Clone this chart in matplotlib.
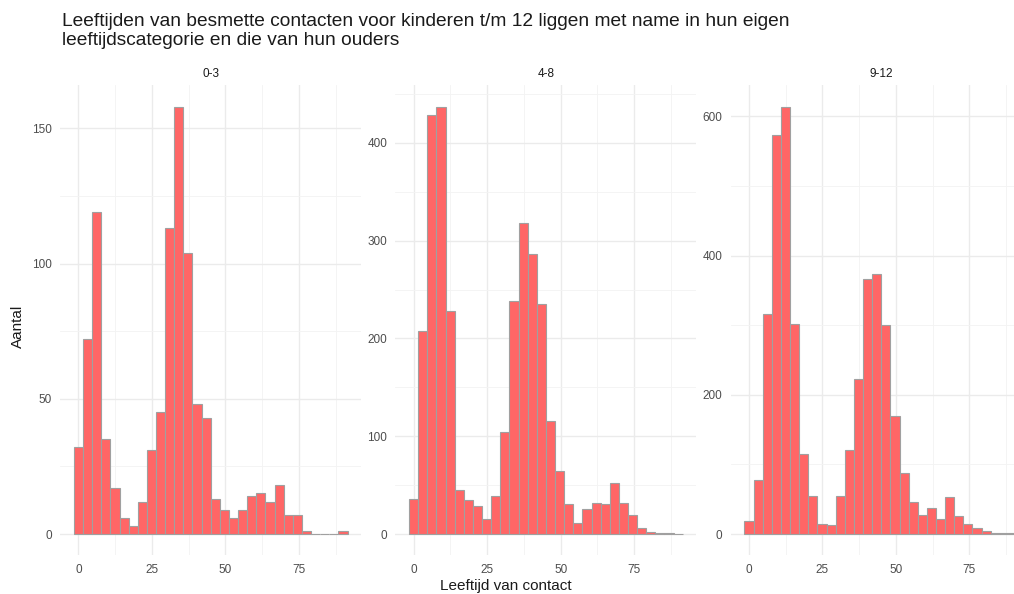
import numpy as np
import matplotlib.pyplot as plt
from matplotlib.ticker import MultipleLocator

plt.rcParams['font.family'] = ['Liberation Sans', 'DejaVu Sans']

# 30 bins over the shared age range 0-90 (centres at 0, 90/29, ..., 90)
n_bins = 30
bin_width = 90 / 29
bin_centres = np.arange(n_bins) * bin_width

groups = ['0-3', '4-8', '9-12']

counts_0_3 = [32, 72, 119, 35, 17, 6, 3, 12, 31, 45, 113, 158, 104, 48, 43,
              13, 9, 6, 9, 14, 15, 12, 18, 7, 7, 1, 0, 0, 0, 1]
counts_4_8 = [36, 208, 428, 437, 228, 45, 35, 29, 15, 39, 104, 238, 318, 286, 235,
              116, 64, 31, 11, 26, 32, 31, 52, 32, 19, 6, 2, 1, 1, 0.3]
counts_9_12 = [19, 78, 316, 574, 614, 302, 115, 55, 15, 13, 54, 120, 223, 366, 374,
               300, 170, 88, 46, 28, 37, 22, 53, 26, 15, 8, 5, 2, 1, 2]

all_counts = [counts_0_3, counts_4_8, counts_9_12]
y_major = [50, 100, 200]

fig = plt.figure(figsize=(10.14, 5.94), dpi=100)
fig.patch.set_facecolor('white')

fig.text(0.061, 0.978, 'Leeftijden van besmette contacten voor kinderen t/m 12 liggen met name in hun eigen\n'
         'leeftijdscategorie en die van hun ouders',
         fontsize=13.8, color='#1a1a1a', ha='left', va='top', linespacing=1.12)

lefts = [0.0594, 0.390, 0.7207]
bottom, height, width = 0.065, 0.7914, 0.2968

x_lo = -bin_width / 2
x_hi = 90 + bin_width / 2
x_pad = (x_hi - x_lo) * 0.05

for left, name, counts, step in zip(lefts, groups, all_counts, y_major):
    ax = fig.add_axes([left, bottom, width, height])
    ax.set_facecolor('white')
    ax.bar(bin_centres, counts, width=bin_width, color='#ff6666',
           edgecolor='#a0a0a0', linewidth=0.8, zorder=3)
    ymax = max(counts)
    ax.set_ylim(-0.05 * ymax, ymax * 1.05)
    ax.set_xlim(x_lo - x_pad, x_hi + x_pad)
    ax.xaxis.set_major_locator(MultipleLocator(25))
    ax.xaxis.set_minor_locator(MultipleLocator(12.5))
    ax.yaxis.set_major_locator(MultipleLocator(step))
    ax.yaxis.set_minor_locator(MultipleLocator(step / 2))
    ax.grid(which='major', color='#ebebeb', linewidth=1.0, zorder=0)
    ax.grid(which='minor', color='#f3f3f3', linewidth=0.6, zorder=0)
    for s in ax.spines.values():
        s.set_visible(False)
    ax.tick_params(which='both', length=0, labelsize=8.5, labelcolor='#4d4d4d', pad=6)
    ax.set_title(name, fontsize=8.5, color='#1a1a1a', pad=6)

fig.text(0.018, 0.45, 'Aantal', rotation=90, fontsize=11, color='#1a1a1a', ha='center', va='center')
fig.text(0.499, 0.013, 'Leeftijd van contact', fontsize=11, color='#1a1a1a', ha='center', va='center')

fig.savefig('out.png', dpi=100)
